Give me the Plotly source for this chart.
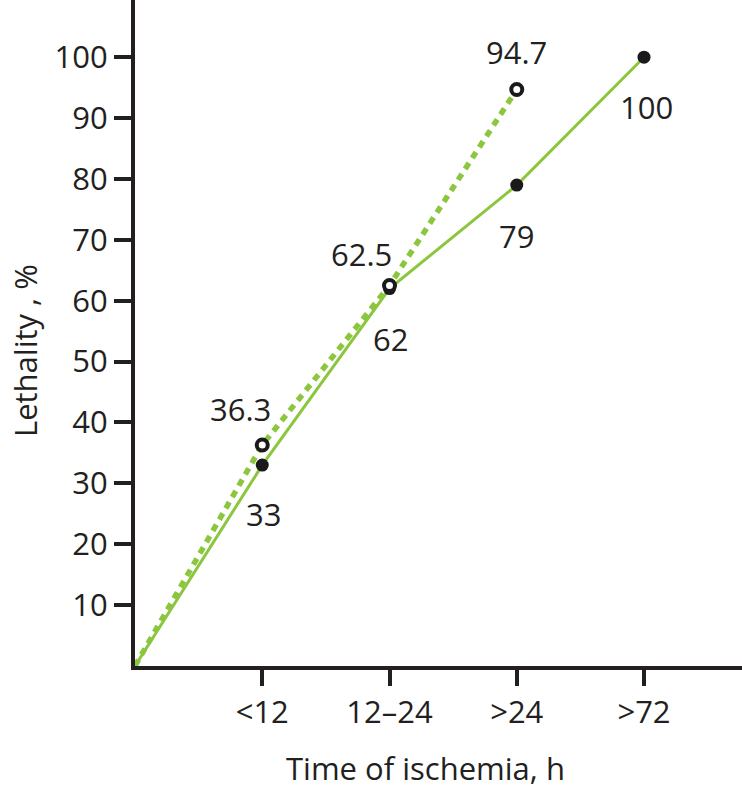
import plotly.graph_objects as go

# data
time_labels = ["<12", "12–24", ">24", ">72"]
x_pos = [0, 1, 2, 3, 4]           # 0 = origin
lethal_solid = [0, 33, 62, 79, 100]
lethal_dashed = [0, 36.3, 62.5, 94.7]
y_ticks = [10, 20, 30, 40, 50, 60, 70, 80, 90, 100]

green = "#8cc63f"
ink = "#231f20"
font = "Open Sans"
fsize = 31

fig = go.Figure()

fig.add_trace(go.Scatter(x=x_pos[:len(lethal_dashed)], y=lethal_dashed, mode="lines",
                         line=dict(color=green, width=5.5, dash="7px,6px"),
                         hoverinfo="skip", cliponaxis=False))
fig.add_trace(go.Scatter(x=x_pos, y=lethal_solid, mode="lines",
                         line=dict(color=green, width=3),
                         hoverinfo="skip", cliponaxis=False))
fig.add_trace(go.Scatter(x=x_pos[1:], y=lethal_solid[1:], mode="markers",
                         marker=dict(size=13, color="#1a1a1a"),
                         cliponaxis=False))
fig.add_trace(go.Scatter(x=x_pos[1:len(lethal_dashed)], y=lethal_dashed[1:], mode="markers",
                         marker=dict(size=11, color="white", line=dict(color="#1a1a1a", width=4)),
                         cliponaxis=False))

# value labels
solid_shift = [(1, -49), (1, -50), (0, -51), (2, -50)]
for (xs, ys), x, v in zip(solid_shift, x_pos[1:], lethal_solid[1:]):
    fig.add_annotation(x=x, y=v, text=str(v), showarrow=False, xshift=xs, yshift=ys,
                       font=dict(family=font, size=fsize, color=ink))
dashed_shift = [(-22, 36), (-28, 32), (0, 37)]
for (xs, ys), x, v in zip(dashed_shift, x_pos[1:], lethal_dashed[1:]):
    fig.add_annotation(x=x, y=v, text=str(v), showarrow=False, xshift=xs, yshift=ys,
                       font=dict(family=font, size=fsize, color=ink))

# axis titles
fig.add_annotation(xref="paper", yref="paper", x=-0.180, y=0.474, text="Lethality , %",
                   textangle=-90, showarrow=False, xanchor="center", yanchor="middle",
                   font=dict(family=font, size=fsize, color=ink))
fig.add_annotation(xref="paper", yref="paper", x=0.478, y=-0.153, text="Time of ischemia, h",
                   showarrow=False, xanchor="center", yanchor="middle",
                   font=dict(family=font, size=fsize, color=ink))

fig.update_xaxes(range=[0, 4.77], tickvals=x_pos[1:], ticktext=time_labels,
                 showline=True, linecolor=ink, linewidth=4,
                 ticks="outside", ticklen=16, tickwidth=4, tickcolor=ink,
                 showgrid=False, zeroline=False,
                 tickfont=dict(family=font, size=fsize, color=ink))
fig.update_yaxes(range=[0, 109.4], tickvals=y_ticks,
                 showline=True, linecolor=ink, linewidth=4,
                 ticks="outside", ticklen=17, tickwidth=4, tickcolor=ink,
                 showgrid=False, zeroline=False,
                 tickfont=dict(family=font, size=fsize, color=ink))

fig.update_layout(width=742, height=790, showlegend=False,
                  margin=dict(l=135, r=0, t=0, b=124),
                  plot_bgcolor="white", paper_bgcolor="white")

fig.write_html("out.html", config={"displayModeBar": False},
               post_script="document.body.style.margin='0';")
